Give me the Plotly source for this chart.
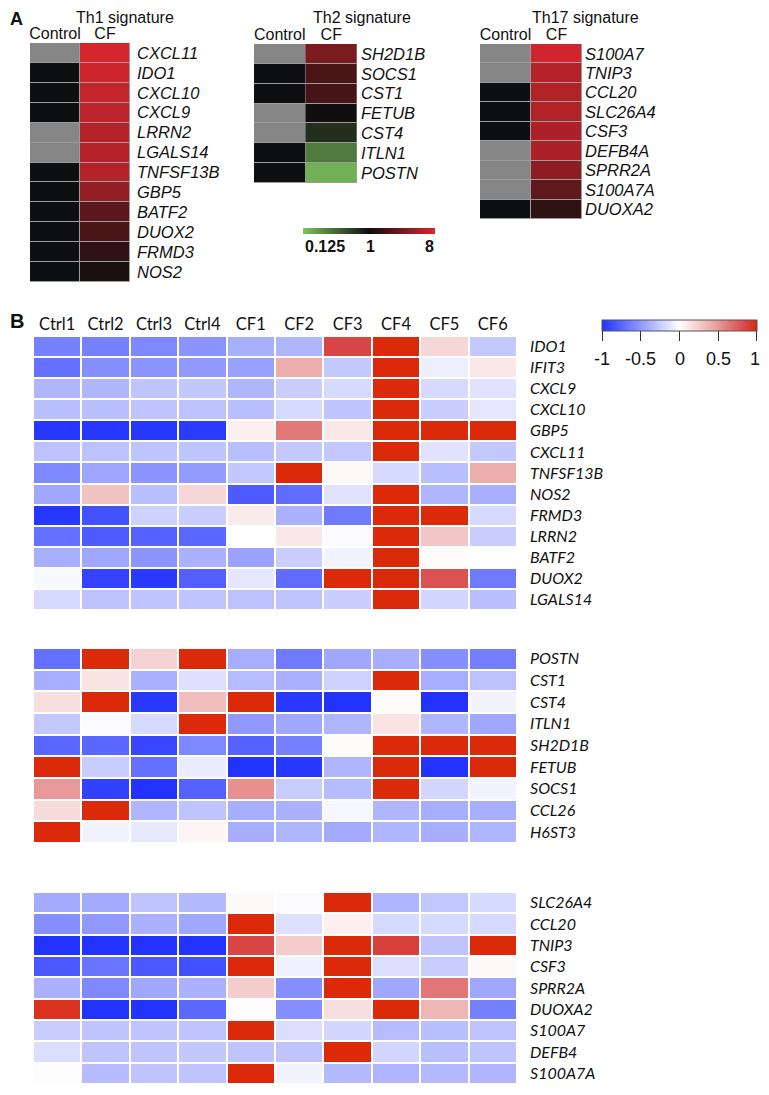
import plotly.graph_objects as go

# the page has an 8px body margin, so the figure is drawn 8px in from the corner
OFF = 8
W, H = 769 - 2 * OFF, 1095 - 2 * OFF

# ---------------- Panel A: fold change CF vs control (log2 scale, 0.125..8)
TH1_GENES = ["CXCL11", "IDO1", "CXCL10", "CXCL9", "LRRN2", "LGALS14", "TNFSF13B",
             "GBP5", "BATF2", "DUOX2", "FRMD3", "NOS2"]
TH1_CTRL = [1, 0, 0, 0, 1, 1, 0, 0, 0, 0, 0, 0]          # 1 = grey, 0 = black
TH1_CF = [2.95, 2.85, 2.7, 2.6, 2.5, 2.5, 2.45, 2.0, 1.15, 0.9, 0.5, 0.2]

TH2_GENES = ["SH2D1B", "SOCS1", "CST1", "FETUB", "CST4", "ITLN1", "POSTN"]
TH2_CTRL = [1, 0, 0, 1, 1, 0, 0]
TH2_CF = [1.6, 0.9, 0.85, 0.05, -0.55, -1.8, -2.7]

TH17_GENES = ["S100A7", "TNIP3", "CCL20", "SLC26A4", "CSF3", "DEFB4A", "SPRR2A",
              "S100A7A", "DUOXA2"]
TH17_CTRL = [1, 1, 0, 0, 0, 1, 1, 1, 0]
TH17_CF = [2.9, 2.5, 2.4, 2.4, 2.35, 2.35, 1.9, 1.2, 0.5]

A_COLS = ["Control", "CF"]
A_SCALE_LABELS = ["0.125", "1", "8"]

# ---------------- Panel B: per-sample z-scores (-1..1)
SAMPLES = ["Ctrl1", "Ctrl2", "Ctrl3", "Ctrl4", "CF1", "CF2", "CF3", "CF4", "CF5", "CF6"]

B1_GENES = ["IDO1", "IFIT3", "CXCL9", "CXCL10", "GBP5", "CXCL11", "TNFSF13B", "NOS2",
            "FRMD3", "LRRN2", "BATF2", "DUOX2", "LGALS14"]
B1_Z = [
    [-0.62, -0.62, -0.58, -0.53, -0.39, -0.36, 0.85, 1, 0.2, -0.27],
    [-0.7, -0.55, -0.53, -0.5, -0.46, 0.4, -0.27, 1, -0.08, 0.12],
    [-0.36, -0.36, -0.29, -0.27, -0.36, -0.24, -0.18, 1, -0.18, -0.14],
    [-0.31, -0.31, -0.29, -0.3, -0.31, -0.18, -0.29, 1, -0.24, -0.12],
    [-0.98, -0.98, -0.98, -0.96, 0.08, 0.63, 0.12, 1, 1, 1],
    [-0.3, -0.3, -0.29, -0.29, -0.31, -0.27, -0.27, 1, -0.14, -0.27],
    [-0.58, -0.44, -0.52, -0.49, -0.27, 1, 0.03, -0.18, -0.31, 0.4],
    [-0.43, 0.3, -0.31, 0.2, -0.8, -0.72, -0.14, 1, -0.36, -0.39],
    [-0.98, -0.85, -0.22, -0.24, 0.1, -0.38, -0.65, 1, 1, -0.18],
    [-0.7, -0.8, -0.77, -0.74, 0.0, 0.12, -0.02, 1, 0.28, -0.24],
    [-0.39, -0.43, -0.52, -0.38, -0.45, -0.24, -0.06, 1, 0.02, 0.0],
    [-0.03, -0.92, -0.97, -0.78, -0.12, -0.72, 1, 1, 0.8, -0.65],
    [-0.18, -0.3, -0.29, -0.29, -0.3, -0.29, -0.24, 1, -0.2, -0.31],
]

B2_GENES = ["POSTN", "CST1", "CST4", "ITLN1", "SH2D1B", "FETUB", "SOCS1", "CCL26", "H6ST3"]
B2_Z = [
    [-0.7, 1, 0.22, 1, -0.4, -0.65, -0.43, -0.4, -0.55, -0.63],
    [-0.4, 0.14, -0.38, -0.15, -0.33, -0.38, -0.22, 1, -0.4, -0.3],
    [0.16, 1, -0.97, 0.33, 1, -0.97, -1, 0.02, -1, -0.06],
    [-0.27, -0.02, -0.18, 1, -0.5, -0.43, -0.36, 0.14, -0.36, -0.43],
    [-0.75, -0.75, -0.9, -0.58, -0.77, -0.62, 0.02, 1, 1, 1],
    [1, -0.25, -0.7, -0.1, -1, -0.98, -0.36, 1, -1, 1],
    [0.5, -0.93, -1, -0.77, 0.53, -0.25, -0.33, 1, -0.2, -0.06],
    [0.18, 1, -0.36, -0.29, -0.4, -0.38, -0.04, -0.36, -0.4, -0.4],
    [1, -0.06, -0.11, 0.05, -0.4, -0.36, -0.41, -0.36, -0.4, -0.36],
]

B3_GENES = ["SLC26A4", "CCL20", "TNIP3", "CSF3", "SPRR2A", "DUOXA2", "S100A7", "DEFB4", "S100A7A"]
B3_Z = [
    [-0.41, -0.41, -0.29, -0.34, 0.03, -0.02, 1, -0.36, -0.27, -0.18],
    [-0.55, -0.5, -0.38, -0.43, 1, -0.15, 0.08, -0.18, -0.18, -0.18],
    [-1, -1, -1, -1, 0.85, 0.25, 1, 0.88, -0.29, 1],
    [-0.82, -0.68, -0.82, -0.86, 1, -0.07, 1, -0.16, -0.25, 0.03],
    [-0.38, -0.58, -0.43, -0.38, 0.25, -0.55, 1, -0.43, 0.65, -0.43],
    [0.95, -1, -1, -0.74, -0.01, -0.55, 0.16, 1, 0.36, -0.62],
    [-0.25, -0.29, -0.29, -0.29, 1, -0.16, -0.2, -0.33, -0.31, -0.29],
    [-0.16, -0.29, -0.29, -0.27, -0.29, -0.29, 1, -0.2, -0.31, -0.29],
    [-0.01, -0.33, -0.29, -0.29, 1, -0.06, -0.34, -0.36, -0.34, -0.36],
]
B_TICKS = [-1, -0.5, 0, 0.5, 1]

# ---------------- styling
ARIAL = "Liberation Sans, Arial, sans-serif"
CALIBRI = "Lato, Carlito, Calibri, sans-serif"
GRN_BLK_RED = [[0, "#7dc25e"], [0.5, "#0e0e0f"], [1, "#d8262e"]]
BLU_WHT_RED = [[0, "#2233ff"], [0.5, "#ffffff"], [0.72, "#eba6a6"],
               [0.93, "#d84444"], [1, "#da2a0a"]]
CTRL_SCALE = [[0, "#0e0f10"], [0.5, "#0e0f10"], [0.5, "#868686"], [1, "#868686"]]

# B colour key geometry (window px)
B_KEY_L, B_KEY_R = 602, 757


# positions below are window pixels, converted to paper fractions here
def fx(px):
    return (px - OFF) / W


def fy(py):
    return 1 - (py - OFF) / H


def dom_x(left, right):
    return [fx(left), fx(right)]


def dom_y(top, bottom):
    return [fy(bottom), fy(top)]


def ax(i):
    s = "" if i == 1 else str(i)
    return f"x{s}", f"y{s}", f"xaxis{s}", f"yaxis{s}"


fig = go.Figure()

# panel A heatmaps: (axis index, genes, control, cf, x px, y px, label standoff)
A_PANELS = [
    (1, TH1_GENES, TH1_CTRL, TH1_CF, (30, 130), (43, 282), 6),
    (2, TH2_GENES, TH2_CTRL, TH2_CF, (254, 357), (44, 183), 3),
    (3, TH17_GENES, TH17_CTRL, TH17_CF, (480, 582), (44, 219), 2),
]
for i, genes, ctrl, cf, xs, ys, stand in A_PANELS:
    xa, ya, xk, yk = ax(i)
    fig.add_trace(go.Heatmap(
        x=[0], y=genes, z=[[v] for v in ctrl],
        colorscale=CTRL_SCALE, zmin=0, zmax=1, showscale=False,
        xgap=1, ygap=1, xaxis=xa, yaxis=ya, hoverinfo="skip",
    ))
    fig.add_trace(go.Heatmap(
        x=[1], y=genes, z=[[v] for v in cf],
        coloraxis="coloraxis", xgap=1, ygap=1, xaxis=xa, yaxis=ya,
        hovertemplate="%{y}: %{z:.2f}<extra></extra>",
    ))
    fig.add_shape(type="rect", xref=f"{xa} domain", yref=f"{ya} domain",
                  x0=0, x1=1, y0=0, y1=1, fillcolor="#9c9c9c",
                  line_width=0, layer="below")
    fig.layout[xk] = dict(
        domain=dom_x(*xs), anchor=ya, side="top", range=[-0.5, 1.5],
        tickvals=[0, 1], ticktext=A_COLS, tickangle=0, automargin=False,
        showgrid=False, zeroline=False, ticks="", ticklabelstandoff=0,
        tickfont=dict(family=ARIAL, size=16, color="#111"),
    )
    fig.layout[yk] = dict(
        domain=dom_y(*ys), anchor=xa, side="right", autorange="reversed",
        tickmode="array", tickvals=genes, ticktext=genes, automargin=False,
        showgrid=False, zeroline=False, ticks="", ticklabelstandoff=stand,
        tickfont=dict(family=ARIAL, size=16.5, color="#111", style="italic"),
    )

# panel B heatmaps
B_PANELS = [
    (4, B1_GENES, B1_Z, (336, 610), True),
    (5, B2_GENES, B2_Z, (648, 843), False),
    (6, B3_GENES, B3_Z, (892, 1084), False),
]
for i, genes, z, ys, head in B_PANELS:
    xa, ya, xk, yk = ax(i)
    fig.add_trace(go.Heatmap(
        x=SAMPLES, y=genes, z=z, coloraxis="coloraxis2",
        xgap=2, ygap=2, xaxis=xa, yaxis=ya,
        hovertemplate="%{y} %{x}: %{z:.2f}<extra></extra>",
    ))
    fig.layout[xk] = dict(
        domain=dom_x(33, 517), anchor=ya, side="top", type="category",
        showticklabels=head, showgrid=False, zeroline=False, ticks="",
        ticklabelstandoff=2, tickangle=0, automargin=False,
        tickfont=dict(family=CALIBRI, size=16.5, color="#111"),
    )
    fig.layout[yk] = dict(
        domain=dom_y(*ys), anchor=xa, side="right", autorange="reversed",
        tickmode="array", tickvals=genes, ticktext=genes, automargin=False,
        showgrid=False, zeroline=False, ticks="", ticklabelstandoff=12,
        tickfont=dict(family=CALIBRI, size=16, color="#111", style="italic"),
    )

fig.update_layout(
    width=W, height=H,
    margin=dict(l=0, r=0, t=0, b=0, autoexpand=False),
    paper_bgcolor="white", plot_bgcolor="white",
    coloraxis=dict(
        colorscale=GRN_BLK_RED, cmin=-3, cmax=3,
        colorbar=dict(orientation="h", x=fx(369), xanchor="center",
                      y=fy(228), yanchor="top", len=132, lenmode="pixels",
                      thickness=6, showticklabels=False, ticks="",
                      outlinewidth=0, xpad=0, ypad=0),
    ),
    coloraxis2=dict(
        colorscale=BLU_WHT_RED, cmin=-1, cmax=1,
        colorbar=dict(orientation="h", x=fx((B_KEY_L + B_KEY_R) / 2),
                      xanchor="center", y=fy(320), yanchor="top",
                      len=B_KEY_R - B_KEY_L, lenmode="pixels",
                      thickness=11, tickvals=[-0.999, -0.5, 0, 0.5, 0.999],
                      showticklabels=False,
                      ticks="outside", ticklen=10, tickcolor="#333", tickwidth=1,
                      outlinewidth=1, outlinecolor="#555", xpad=0, ypad=0),
    ),
)


def note(text, x, y, size=16, anchor="center", bold=False):
    fig.add_annotation(
        text=f"<b>{text}</b>" if bold else text, x=fx(x), y=fy(y),
        xref="paper", yref="paper", xanchor=anchor, yanchor="middle",
        showarrow=False, font=dict(family=ARIAL, size=size, color="#111"),
    )


note("A", 8, 19, size=18, anchor="left", bold=True)
note("B", 8, 321, size=20, anchor="left", bold=True)
note("Th1 signature", 125, 18)
note("Th2 signature", 362, 18)
note("Th17 signature", 585, 18)

# colour key labels for panel A
note(A_SCALE_LABELS[0], 303, 247, anchor="left", bold=True)
note(A_SCALE_LABELS[1], 370, 247, bold=True)
note(A_SCALE_LABELS[2], 436, 247, anchor="right", bold=True)

# colour key labels for panel B, placed under the key's ticks
for t in B_TICKS:
    px = B_KEY_L + (t + 1) / 2 * (B_KEY_R - B_KEY_L)
    note(f"{t:g}", min(px, 755), 359, size=18)

fig.write_html("out.html")
